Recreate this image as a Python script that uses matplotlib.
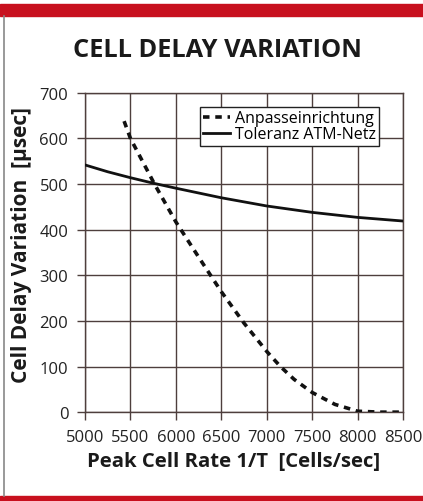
import numpy as np
import matplotlib
import matplotlib.pyplot as plt
from matplotlib.patches import Rectangle
from matplotlib.lines import Line2D

matplotlib.use('Agg')

plt.rcParams['font.family'] = ['Open Sans', 'DejaVu Sans']

# Data
rate_adapter = [5430, 5500, 5770, 6000, 6250, 6500, 6750, 7000, 7150, 7300, 7500, 7750, 8000, 8250, 8500]
cdv_adapter = [638, 600, 498, 417, 340, 264, 195, 133, 100, 72, 43, 17, 2, 0, 0]

rate_atm = [5000, 5250, 5500, 5750, 6000, 6500, 7000, 7500, 8000, 8500]
cdv_atm = [542, 527, 514, 502, 491, 470, 452, 438, 427, 419]

x_ticks = [5000, 5500, 6000, 6500, 7000, 7500, 8000, 8500]
y_ticks = [0, 100, 200, 300, 400, 500, 600, 700]

title = 'CELL DELAY VARIATION'
x_label = 'Peak Cell Rate 1/T  [Cells/sec]'
y_label = 'Cell Delay Variation  [\u00b5sec]'
legend_labels = ['Anpasseinrichtung', 'Toleranz ATM-Netz']

red = '#c8101e'
grid_col = '#4e3f3d'

fig = plt.figure(figsize=(4.23, 5.02), dpi=100)

# Red bars top and bottom, thin grey frame line on the left
fig.patches.append(Rectangle((0, 0.966), 1, 0.024, transform=fig.transFigure,
                             color=red, zorder=0))
fig.patches.append(Rectangle((0, 0), 1, 0.01, transform=fig.transFigure,
                             color=red, zorder=0))
fig.lines.append(Line2D([0.0106, 0.0106], [0.01, 0.966], transform=fig.transFigure,
                        color='#888888', lw=1.2))

ax = fig.add_axes([0.201, 0.177, 0.752, 0.636])

ax.plot(rate_adapter, cdv_adapter, color='#111111', lw=2.6,
        linestyle=(0, (1.8, 1.6)), label=legend_labels[0], zorder=3)
ax.plot(rate_atm, cdv_atm, color='#111111', lw=2.0,
        label=legend_labels[1], zorder=3)

ax.set_xlim(5000, 8500)
ax.set_ylim(0, 700)
ax.set_xticks(x_ticks)
ax.set_yticks(y_ticks)
ax.grid(True, color=grid_col, lw=1.0)
for s in ax.spines.values():
    s.set_color(grid_col)
    s.set_linewidth(1.0)
ax.tick_params(direction='out', length=6, width=1.0, color=grid_col,
               labelsize=12, pad=6, labelcolor='#222222')

leg = ax.legend(loc='upper right', bbox_to_anchor=(0.925, 0.955), fontsize=11.5,
                frameon=True, fancybox=False, framealpha=1, edgecolor='#222222',
                handlelength=1.7, handletextpad=0.3, borderpad=0.2,
                labelspacing=0.0, borderaxespad=0)
leg.get_frame().set_linewidth(1.0)

fig.text(0.515, 0.886, title, ha='center', va='baseline', fontsize=18.3,
         fontweight='bold', color='#1a1a1a')
fig.text(0.553, 0.070, x_label, ha='center', va='baseline', fontsize=14.6,
         fontweight='bold', color='#1a1a1a')
fig.text(0.05, 0.512, y_label, ha='center', va='center', rotation=90,
         fontsize=15, fontweight='bold', color='#1a1a1a')

plt.savefig('out.png', dpi=100)
